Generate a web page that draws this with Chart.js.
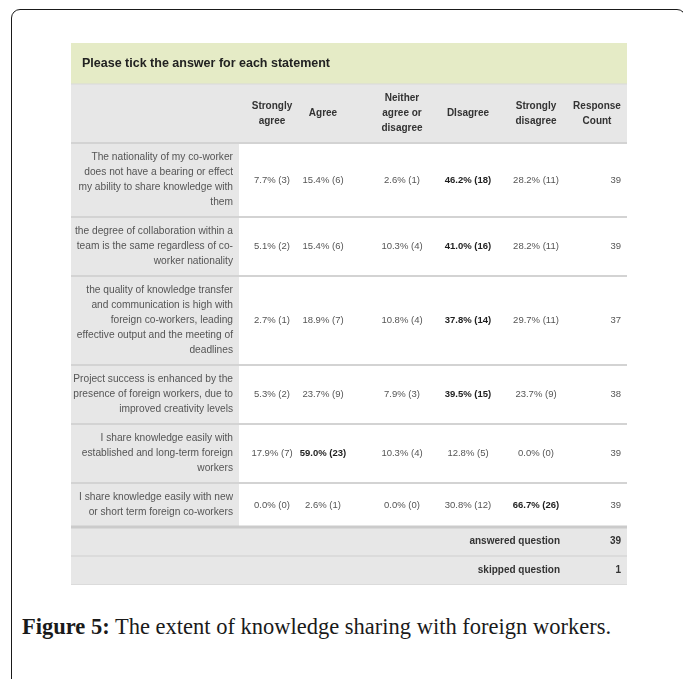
<!DOCTYPE html>
<html>
<head>
<meta charset="utf-8">
<script src="https://cdn.jsdelivr.net/npm/chart.js@4.4.1/dist/chart.umd.min.js"></script>
<style>
  html, body { margin: 0; padding: 0; background: #fff; width: 683px; height: 679px; overflow: hidden; }
  #frame { position: absolute; left: 11px; top: 9px; width: 673px; height: 720px; border: 1.5px solid #1a1a1a; border-radius: 9px; }
  #wrap { position: absolute; left: 71px; top: 43px; width: 556px; height: 542px; }
  #caption { position: absolute; left: 22px; top: 614px; font-family: "Liberation Serif", "Times New Roman", serif; font-size: 22.5px; color: #1a1a1a; white-space: nowrap; }
</style>
</head>
<body>
<div id="frame"></div>
<div id="wrap"><canvas id="survey-table" width="556" height="542"></canvas></div>
<div id="caption"><b>Figure 5:</b> The extent of knowledge sharing with foreign workers.</div>
<script>
// ---- data ----
const tableTitle = "Please tick the answer for each statement";
const columnLabels = [
    ["Strongly", "agree"],
    ["Agree"],
    ["Neither", "agree or", "disagree"],
    ["DIsagree"],
    ["Strongly", "disagree"],
    ["Response", "Count"],
];
const statements = [
    ["The nationality of my co-worker", "does not have a bearing or effect", "my ability to share knowledge with", "them"],
    ["the degree of collaboration within a", "team is the same regardless of co-", "worker nationality"],
    ["the quality of knowledge transfer", "and communication is high with", "foreign co-workers, leading", "effective output and the meeting of", "deadlines"],
    ["Project success is enhanced by the", "presence of foreign workers, due to", "improved creativity levels"],
    ["I share knowledge easily with", "established and long-term foreign", "workers"],
    ["I share knowledge easily with new", "or short term foreign co-workers"],
];
const stronglyAgreePct = [7.7, 5.1, 2.7, 5.3, 17.9, 0.0];
const stronglyAgreeN   = [3, 2, 1, 2, 7, 0];
const agreePct         = [15.4, 15.4, 18.9, 23.7, 59.0, 2.6];
const agreeN           = [6, 6, 7, 9, 23, 1];
const neitherPct       = [2.6, 10.3, 10.8, 7.9, 10.3, 0.0];
const neitherN         = [1, 4, 4, 3, 4, 0];
const disagreePct      = [46.2, 41.0, 37.8, 39.5, 12.8, 30.8];
const disagreeN        = [18, 16, 14, 15, 5, 12];
const stronglyDisPct   = [28.2, 28.2, 29.7, 23.7, 0.0, 66.7];
const stronglyDisN     = [11, 11, 11, 9, 0, 26];
const responseCount    = [39, 39, 37, 38, 39, 39];
const summaryLabels    = ["answered question", "skipped question"];
const summaryValues    = [39, 1];

// ---- layout (table units = px) ----
const LINE_H = 15, ROW_PAD = 14, TITLE_H = 41, SUMMARY_H = 29;
const TABLE_W = 556, LABEL_W = 168, LABEL_RIGHT = 162, TITLE_LEFT = 11;
const COL_X = [201, 252, 331, 397, 465];
const COUNT_HEAD_X = 526, COUNT_RIGHT = 550, SUMMARY_RIGHT = 489;

const FONT = '"Liberation Sans", Arial, sans-serif';
const GREY = "#e7e7e7", GREEN = "#e5ebc6", RULE = "#d3d3d3";

// bands of the table, top to bottom
const bands = [];
let yTop = 0;
function addBand(kind, h, idx) {
    bands.push({ kind: kind, top: yTop, bottom: yTop + h, mid: yTop + h / 2, idx: idx });
    yTop += h;
}
addBand("title", TITLE_H);
addBand("header", Math.max(...columnLabels.map(l => l.length)) * LINE_H + ROW_PAD);
statements.forEach((s, i) => addBand("row", s.length * LINE_H + ROW_PAD, i));
summaryLabels.forEach((s, i) => addBand("summary", SUMMARY_H, i));
const TABLE_H = yTop;

const rowBands = bands.filter(b => b.kind == "row");
const sumBands = bands.filter(b => b.kind == "summary");
const headBand = bands.find(b => b.kind == "header");
const titleBand = bands.find(b => b.kind == "title");

const pctSeries = [
    [stronglyAgreePct, stronglyAgreeN],
    [agreePct, agreeN],
    [neitherPct, neitherN],
    [disagreePct, disagreeN],
    [stronglyDisPct, stronglyDisN],
];
// the highest share in every row is printed in bold
const rowMax = statements.map((s, i) => Math.max(...pctSeries.map(p => p[0][i])));

function textSet(label, points, texts, opts) {
    return Object.assign({
        label: label,
        data: points,
        cellText: texts,
        cellAlign: "center",
        cellColor: "#555",
        cellWeight: texts.map(() => "normal"),
        cellSize: 9.5,
        pointRadius: 0,
        showLine: false,
    }, opts);
}

const datasets = [];
datasets.push(textSet("title", [{ x: TITLE_LEFT, y: titleBand.mid }], [[tableTitle]],
    { cellAlign: "left", cellColor: "#222", cellWeight: ["bold"], cellSize: 12.5 }));
datasets.push(textSet("columns",
    columnLabels.map((l, c) => ({ x: c < COL_X.length ? COL_X[c] : COUNT_HEAD_X, y: headBand.mid })),
    columnLabels, { cellColor: "#333", cellWeight: columnLabels.map(() => "bold"), cellSize: 10 }));
datasets.push(textSet("statements",
    rowBands.map(b => ({ x: LABEL_RIGHT, y: b.mid })),
    statements, { cellAlign: "right", cellSize: 10.2 }));
pctSeries.forEach((p, c) => {
    datasets.push(textSet(columnLabels[c].join(" "),
        rowBands.map(b => ({ x: COL_X[c], y: b.mid })),
        p[0].map((v, i) => [v.toFixed(1) + "% (" + p[1][i] + ")"]),
        {
            cellWeight: p[0].map((v, i) => v == rowMax[i] ? "bold" : "normal"),
            cellColor: p[0].map((v, i) => v == rowMax[i] ? "#1e1e1e" : "#555"),
        }));
});
datasets.push(textSet("Response Count",
    rowBands.map(b => ({ x: COUNT_RIGHT, y: b.mid })),
    responseCount.map(v => [String(v)]), { cellAlign: "right" }));
datasets.push(textSet("summary labels",
    sumBands.map(b => ({ x: SUMMARY_RIGHT, y: b.mid })),
    summaryLabels.map(s => [s]), { cellAlign: "right", cellColor: "#333", cellWeight: summaryLabels.map(() => "bold"), cellSize: 10 }));
datasets.push(textSet("summary values",
    sumBands.map(b => ({ x: COUNT_RIGHT, y: b.mid })),
    summaryValues.map(v => [String(v)]), { cellAlign: "right", cellColor: "#333", cellWeight: summaryValues.map(() => "bold"), cellSize: 10 }));

const tablePlugin = {
    id: "tableCells",
    beforeDatasetsDraw(chart) {
        const ctx = chart.ctx, x = chart.scales.x, y = chart.scales.y;
        const x0 = x.getPixelForValue(0), x1 = x.getPixelForValue(TABLE_W), xl = x.getPixelForValue(LABEL_W);
        ctx.save();
        bands.forEach((b) => {
            const t = y.getPixelForValue(b.top), btm = y.getPixelForValue(b.bottom);
            if (b.kind == "title") {
                ctx.fillStyle = GREEN;
                ctx.fillRect(x0, t, x1 - x0, btm - t);
            } else if (b.kind == "row") {
                ctx.fillStyle = "#fff";
                ctx.fillRect(x0, t, x1 - x0, btm - t);
                ctx.fillStyle = GREY;
                ctx.fillRect(x0, t, xl - x0, btm - t);
            } else {
                ctx.fillStyle = GREY;
                ctx.fillRect(x0, t, x1 - x0, btm - t);
            }
        });
        // rules between bands
        bands.forEach((b) => {
            const btm = y.getPixelForValue(b.bottom);
            let w = 2, col = RULE;
            if (b.kind == "title") { w = 1; col = "#d9d9d9"; }
            if (b.kind == "row" && b.idx == statements.length - 1) { w = 3; col = "#cbcbcb"; }
            if (b.kind == "summary") { w = 1; col = "#cfcfcf"; }
            ctx.fillStyle = col;
            ctx.fillRect(x0, btm - w / 2, x1 - x0, w);
        });
        ctx.restore();
    },
    afterDatasetsDraw(chart) {
        const ctx = chart.ctx;
        ctx.save();
        ctx.textBaseline = "middle";
        chart.data.datasets.forEach((ds, d) => {
            const meta = chart.getDatasetMeta(d);
            meta.data.forEach((el, i) => {
                const lines = ds.cellText[i];
                const weight = Array.isArray(ds.cellWeight) ? ds.cellWeight[i] : ds.cellWeight;
                ctx.font = weight + " " + ds.cellSize + "px " + FONT;
                ctx.fillStyle = Array.isArray(ds.cellColor) ? ds.cellColor[i] : ds.cellColor;
                ctx.textAlign = ds.cellAlign;
                const first = el.y - (lines.length - 1) * LINE_H / 2;
                lines.forEach((ln, j) => ctx.fillText(ln, el.x, first + j * LINE_H));
            });
        });
        ctx.restore();
    },
};

let surveyTable = new Chart(document.getElementById("survey-table").getContext("2d"), {
    type: "scatter",
    data: { datasets: datasets },
    options: {
        responsive: false,
        animation: false,
        devicePixelRatio: 1,
        layout: { padding: 0 },
        plugins: { legend: { display: false }, tooltip: { enabled: false } },
        events: [],
        scales: {
            x: { type: "linear", display: false, min: 0, max: TABLE_W },
            y: { type: "linear", display: false, min: 0, max: TABLE_H, reverse: true },
        },
    },
    plugins: [tablePlugin],
});
</script>
</body>
</html>
